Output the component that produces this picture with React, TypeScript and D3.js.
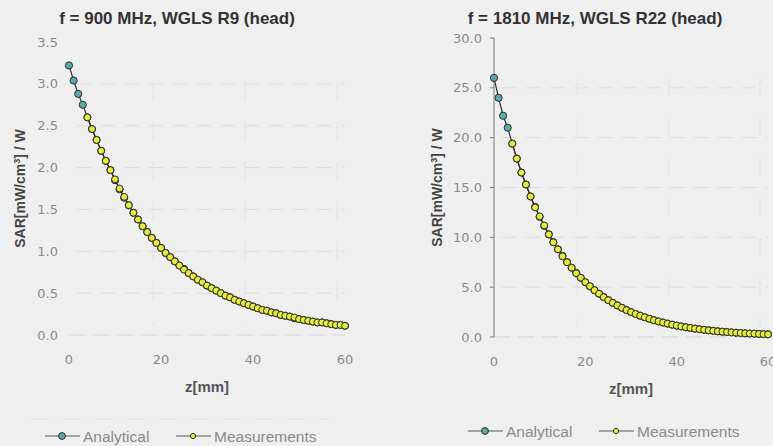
import React from 'react'
import * as d3 from 'd3'

// z positions in mm (1 mm steps)
const zValues = d3.range(0, 61)

// f = 900 MHz, WGLS R9
const analytical900 = [
  3.22, 3.04, 2.88, 2.75, 2.6, 2.46, 2.33, 2.2, 2.08, 1.97,
  1.85, 1.74, 1.64, 1.55, 1.46, 1.38, 1.3, 1.23, 1.16, 1.1,
  1.04, 0.98, 0.93, 0.88, 0.83, 0.79, 0.74, 0.7, 0.66, 0.63,
  0.59, 0.56, 0.53, 0.5, 0.47, 0.45, 0.42, 0.4, 0.38, 0.36,
  0.34, 0.32, 0.3, 0.29, 0.27, 0.26, 0.24, 0.23, 0.22, 0.2,
  0.19, 0.18, 0.17, 0.16, 0.15, 0.15, 0.14, 0.13, 0.12, 0.12, 0.11
]
const measured900 = [
  null, null, null, null, 2.6, 2.46, 2.33, 2.2, 2.08, 1.97,
  1.86, 1.75, 1.65, 1.55, 1.46, 1.38, 1.3, 1.23, 1.16, 1.1,
  1.04, 0.98, 0.93, 0.88, 0.83, 0.78, 0.74, 0.7, 0.66, 0.63,
  0.59, 0.56, 0.53, 0.5, 0.47, 0.45, 0.42, 0.4, 0.38, 0.36,
  0.34, 0.32, 0.3, 0.29, 0.27, 0.26, 0.24, 0.23, 0.22, 0.21,
  0.19, 0.18, 0.17, 0.16, 0.15, 0.15, 0.14, 0.13, 0.12, 0.12, 0.11
]

// f = 1810 MHz, WGLS R22
const analytical1810 = [
  26.0, 24.0, 22.2, 21.0, 19.4, 17.9, 16.5, 15.3, 14.1, 13.05,
  12.06, 11.15, 10.3, 9.52, 8.8, 8.14, 7.52, 6.95, 6.43, 5.94,
  5.49, 5.08, 4.69, 4.34, 4.01, 3.71, 3.43, 3.17, 2.93, 2.71,
  2.5, 2.31, 2.14, 1.98, 1.83, 1.69, 1.56, 1.45, 1.34, 1.24,
  1.14, 1.06, 0.98, 0.91, 0.84, 0.78, 0.72, 0.67, 0.62, 0.57,
  0.53, 0.5, 0.46, 0.43, 0.4, 0.37, 0.35, 0.33, 0.31, 0.29, 0.27
]
const measured1810 = [
  null, null, null, null, 19.4, 17.9, 16.5, 15.3, 14.1, 13.0,
  12.1, 11.2, 10.3, 9.5, 8.8, 8.1, 7.5, 6.95, 6.4, 5.95,
  5.5, 5.1, 4.7, 4.35, 4.0, 3.7, 3.43, 3.17, 2.93, 2.7,
  2.5, 2.31, 2.14, 1.98, 1.83, 1.69, 1.56, 1.45, 1.34, 1.24,
  1.15, 1.06, 0.98, 0.91, 0.84, 0.78, 0.72, 0.67, 0.62, 0.57,
  0.53, 0.5, 0.46, 0.43, 0.4, 0.37, 0.35, 0.33, 0.31, 0.29, 0.27
]

const xTicks = [0, 20, 40, 60]
const yTicks900 = [0, 0.5, 1.0, 1.5, 2.0, 2.5, 3.0, 3.5]
const yTicks1810 = [0, 5, 10, 15, 20, 25, 30]

const panels = [
  {
    title: 'f = 900 MHz, WGLS R9 (head)',
    analytical: analytical900, measured: measured900, yTicks: yTicks900,
    yMax: 3.5, x0: 69, x1: 345, y0: 335, y1: 42, titleX: 177, axisLine: false,
    yTitleX: 25, legendY: 436, legendX: 45
  },
  {
    title: 'f = 1810 MHz, WGLS R22 (head)',
    analytical: analytical1810, measured: measured1810, yTicks: yTicks1810,
    yMax: 30, x0: 494, x1: 768, y0: 337, y1: 38, titleX: 595, axisLine: true,
    yTitleX: 442, legendY: 431, legendX: 468
  }
]

const teal = '#5aaba3'
const yellow = '#e6ec3c'
const dark = '#2e2e2e'
const font = '"Liberation Sans", Arial, sans-serif'
const tickFont = '"DejaVu Sans", sans-serif'

function Panel({ p }: { p: typeof panels[0] }) {
  const x = d3.scaleLinear().domain([0, 60]).range([p.x0, p.x1])
  const y = d3.scaleLinear().domain([0, p.yMax]).range([p.y0, p.y1])
  const line = d3.line<[number, number]>().x(d => x(d[0])).y(d => y(d[1]))
  const aPts: [number, number][] = zValues.map((z, i) => [z, p.analytical[i]])
  const mPts: [number, number][] = zValues
    .map((z, i) => [z, p.measured[i]] as [number, number | null])
    .filter(d => d[1] !== null) as [number, number][]
  const fmt = d3.format('.1f')
  const yMid = (p.y0 + p.y1) / 2

  return (
    <g>
      <text x={p.titleX} y={24} textAnchor="middle" fontSize={17} fontWeight="bold" fill="#333" fontFamily={font}>{p.title}</text>
      {/* grid */}
      {p.yTicks.filter(t => t > 0 && t < p.yMax).map(t => (
        <line key={'gy' + t} x1={p.x0 + 8} x2={p.x1} y1={y(t)} y2={y(t)} stroke="#dcdcdc" strokeDasharray="14 10" />
      ))}
      {xTicks.slice(1).map(t => (
        <line key={'gx' + t} x1={x(t) - 8} x2={x(t) - 8} y1={p.y1 + 40} y2={p.y0 - 10} stroke="#e2e2e2" strokeDasharray="18 22" />
      ))}
      <line x1={p.x0} x2={p.x1} y1={p.y0} y2={p.y0} stroke="#d4d4d4" strokeDasharray="16 8" />
      {p.axisLine && (
        <g>
          <line x1={p.x0} x2={p.x0} y1={p.y1} y2={p.y0} stroke="#777" />
          {p.yTicks.map(t => (
            <line key={'tk' + t} x1={p.x0 - 4} x2={p.x0} y1={y(t)} y2={y(t)} stroke="#777" />
          ))}
        </g>
      )}
      {/* tick labels */}
      {p.yTicks.map(t => (
        <text key={'yl' + t} x={p.x0 - (p.axisLine ? 12 : 11)} y={y(t) + 4.5} textAnchor="end" fontSize={13} fill="#8a8a8a" fontFamily={tickFont}>{fmt(t)}</text>
      ))}
      {xTicks.map(t => (
        <text key={'xl' + t} x={x(t)} y={p.y0 + 29} textAnchor="middle" fontSize={13} fill="#8a8a8a" fontFamily={tickFont}>{t}</text>
      ))}
      {/* axis titles */}
      <text x={(p.x0 + p.x1) / 2} y={p.y0 + 57} textAnchor="middle" fontSize={15} fontWeight="bold" fill="#555" fontFamily={font}>z[mm]</text>
      <text transform={`translate(${p.yTitleX},${yMid}) rotate(-90)`} textAnchor="middle" fontSize={14} fontWeight="bold" fill="#444" fontFamily={font}>
        SAR[mW/cm<tspan dy={-5} fontSize={9}>3</tspan><tspan dy={5}>] / W</tspan>
      </text>
      {/* series */}
      <path d={line(aPts) || ''} fill="none" stroke={dark} strokeWidth={1.2} />
      {aPts.map(d => (
        <circle key={'a' + d[0]} cx={x(d[0])} cy={y(d[1])} r={3.6} fill={teal} stroke={dark} strokeWidth={1} />
      ))}
      <path d={line(mPts) || ''} fill="none" stroke={dark} strokeWidth={1.2} />
      {mPts.map(d => (
        <circle key={'m' + d[0]} cx={x(d[0])} cy={y(d[1])} r={3.4} fill={yellow} stroke={dark} strokeWidth={1} />
      ))}
      {/* legend */}
      <g fontFamily={font} fontSize={15.5} fill="#8a8a8a">
        <line x1={p.legendX} x2={p.legendX + 35} y1={p.legendY} y2={p.legendY} stroke="#555" />
        <circle cx={p.legendX + 17} cy={p.legendY} r={3.4} fill={teal} stroke={dark} />
        <text x={p.legendX + 38} y={p.legendY + 5.5}>Analytical</text>
        <line x1={p.legendX + 131} x2={p.legendX + 166} y1={p.legendY} y2={p.legendY} stroke="#555" />
        <circle cx={p.legendX + 148} cy={p.legendY} r={2.6} fill={yellow} stroke={dark} />
        <text x={p.legendX + 169} y={p.legendY + 5.5}>Measurements</text>
      </g>
    </g>
  )
}

export default function App() {
  return (
    <div style={{ position: 'absolute', left: 0, top: 0 }}>
      <svg width={773} height={446} style={{ display: 'block' }}>
        <rect width={773} height={446} fill="#efefef" />
        <line x1={30} x2={330} y1={419} y2={419} stroke="#e0e0e0" strokeDasharray="20 12" />
        {panels.map(p => <Panel key={p.title} p={p} />)}
      </svg>
    </div>
  )
}
